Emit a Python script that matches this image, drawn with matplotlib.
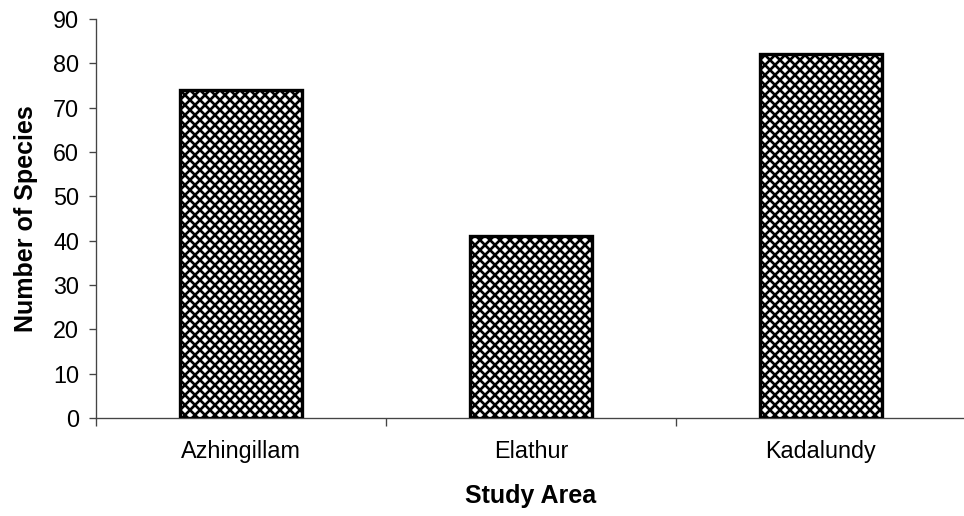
import matplotlib
matplotlib.use('Agg')
import matplotlib.pyplot as plt

sites = ['Azhingillam', 'Elathur', 'Kadalundy']
species = [74, 41, 82]
yticks = [0, 10, 20, 30, 40, 50, 60, 70, 80, 90]

plt.rcParams['font.family'] = ['Liberation Sans', 'DejaVu Sans']
plt.rcParams['hatch.linewidth'] = 1.6
plt.rcParams['hatch.color'] = 'black'

fig = plt.figure(figsize=(965 / 120, 516 / 120), dpi=120)
ax = fig.add_axes([96 / 965, 0.19, 870 / 965, 0.7732])

x = list(range(len(sites)))
ax.bar(x, species, width=0.42, color='white', edgecolor='black',
       linewidth=2.0, hatch='xxxx', zorder=3)

ax.set_xlim(-0.5, 2.5)
ax.set_ylim(0, 90)
ax.set_yticks(yticks)
ax.tick_params(axis='y', labelsize=14, length=4, width=0.8, pad=6, color='#444444')

# boundaries as major ticks, names on minor ticks at bar centres
ax.set_xticks([-0.5, 0.5, 1.5, 2.5])
ax.set_xticklabels([])
ax.set_xticks(x, minor=True)
ax.set_xticklabels(sites, minor=True)
ax.tick_params(axis='x', which='major', length=5, width=0.8, color='#444444')
ax.tick_params(axis='x', which='minor', length=0, labelsize=14, pad=13)

for s in ['top', 'right']:
    ax.spines[s].set_visible(False)
for s in ['left', 'bottom']:
    ax.spines[s].set_color('#444444')
    ax.spines[s].set_linewidth(0.8)

ax.set_xlabel('Study Area', fontsize=15, fontweight='bold', labelpad=13)
ax.set_ylabel('Number of Species', fontsize=15, fontweight='bold', labelpad=9)

fig.savefig('out.png', dpi=120)
